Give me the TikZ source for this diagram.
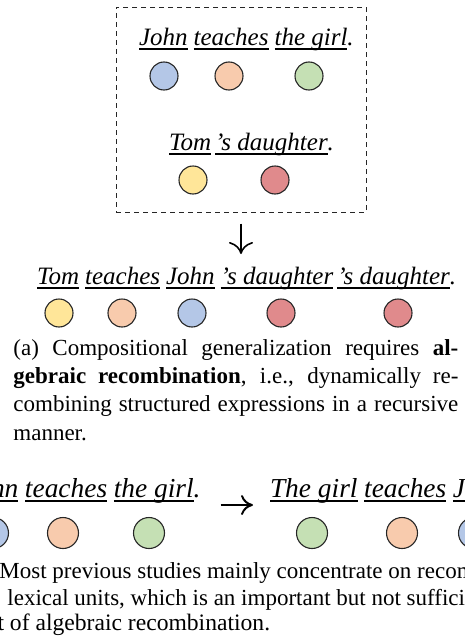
\documentclass[tikz,border=0pt]{standalone}
\usepackage{fontspec}
\setmainfont{Liberation Serif}
\usetikzlibrary{arrows.meta, positioning}
\definecolor{tokblue}{RGB}{180,199,231}
\definecolor{tokorange}{RGB}{248,203,173}
\definecolor{tokgreen}{RGB}{197,224,180}
\definecolor{tokyellow}{RGB}{255,230,153}
\definecolor{tokred}{RGB}{224,138,140}

\begin{document}
\begin{tikzpicture}[
    x=0.5pt, y=-0.5pt,
    word/.style={inner sep=0pt, outer sep=0pt, font=\fontsize{12.5}{15}\selectfont\itshape},
    bigword/.style={word, font=\fontsize{13.7}{16}\selectfont\itshape},
    tok/.style={circle, draw=black!85, line width=0.55pt, minimum size=14pt, inner sep=0pt},
    bigtok/.style={tok, minimum size=15.5pt},
    uline/.style={line width=1pt},
    groupbox/.style={draw=black!85, line width=0.5pt, dash pattern=on 2.5pt off 2pt, minimum width=125pt, minimum height=102.5pt, inner sep=0pt},
    caption/.style={inner sep=0pt, anchor=base west, font=\fontsize{11.5}{14}\selectfont},
    downarrow/.style={-{To[length=6pt,width=12pt]}, line width=0.8pt},
    rightarrow/.style={-{To[length=6pt,width=10pt]}, line width=1pt}
]
\useasboundingbox (0,0) rectangle (465,637);
\clip (0,0) rectangle (465,637);

% (a) input expressions
\node[groupbox] (box) at (241,109.5) {};
\node[word, anchor=base west] (john1) at (139,45) {John};
\node[word, base right=3pt of john1] (teach1) {teaches};
\node[word, base right=3pt of teach1] (girl1) {the girl};
\node[word, base right=0pt of girl1] (dot1) {.};
\node[tok, fill=tokblue] (cjohn1) at (164,76) {};
\node[tok, fill=tokorange] (cteach1) at (229,76) {};
\node[tok, fill=tokgreen] (cgirl1) at (309,76) {};

\node[word, anchor=base west] (tom2) at (169,150) {Tom};
\node[word, base right=2pt of tom2] (dau2) {’\kern-1pt s daughter};
\node[word, base right=0pt of dau2] (dot2) {.};
\node[tok, fill=tokyellow] (ctom2) at (193,180) {};
\node[tok, fill=tokred] (cdau2) at (275,180) {};

% recombined expression
\coordinate (rowtop) at (241,254);
\draw[downarrow, shorten <=5.5pt] (box.south) -- (rowtop);

\node[word, anchor=base west] (tom3) at (37,284) {Tom};
\node[word, base right=3pt of tom3] (teach3) {teaches};
\node[word, base right=3pt of teach3] (john3) {John};
\node[word, base right=3pt of john3] (dau3) {’\kern-1pt s daughter};
\node[word, base right=2pt of dau3] (daub3) {’\kern-1pt s daughter};
\node[word, base right=0pt of daub3] (dot3) {.};
\node[tok, fill=tokyellow] (ctom3) at (59,313) {};
\node[tok, fill=tokorange] (cteach3) at (122,313) {};
\node[tok, fill=tokblue] (cjohn3) at (192,313) {};
\node[tok, fill=tokred] (cdau3) at (281,313) {};
\node[tok, fill=tokred] (cdaub3) at (398,313) {};

\node[caption] (capa1) at (13,355) {\makebox[222.5pt][s]{(a) Compositional generalization requires \textbf{al-}}};
\node[caption] (capa2) at (13,383) {\makebox[222.5pt][s]{\textbf{gebraic recombination}, i.e., dynamically re-}};
\node[caption] (capa3) at (13,411) {\makebox[222.5pt][s]{combining structured expressions in a recursive}};
\node[caption] (capa4) at (13,440) {manner.};

% (b) lexical recombination
\node[bigword, anchor=base west] (teach4) at (25,497) {teaches};
\node[bigword, base left=3.3pt of teach4] (john4) {John};
\node[bigword, base right=3.3pt of teach4] (girl4) {the girl};
\node[bigword, base right=0pt of girl4] (dot4) {.};
\node[bigword, anchor=base west] (girl5) at (270,497) {The girl};
\node[bigword, base right=3.3pt of girl5] (teach5) {teaches};
\node[bigword, base right=3.3pt of teach5] (john5) {John};
\draw[rightarrow] ([xshift=10pt,yshift=-4pt]dot4.base east) -- ([xshift=-8.5pt,yshift=-4pt]girl5.base west);

\node[bigtok, fill=tokblue] (cjohn4) at (-7,533) {};
\node[bigtok, fill=tokorange] (cteach4) at (63,533) {};
\node[bigtok, fill=tokgreen] (cgirl4) at (149,533) {};
\node[bigtok, fill=tokgreen] (cgirl5) at (312,533) {};
\node[bigtok, fill=tokorange] (cteach5) at (402,533) {};
\node[bigtok, fill=tokblue] (cjohn5) at (474,533) {};

\node[caption] (capb1) at (-1,578) {Most previous studies mainly concentrate on recom-};
\node[caption] (capb2) at (7,605) {lexical units, which is an important but not sufficient};
\node[caption, font=\fontsize{11.8}{14}\selectfont] (capb3) at (-33,630) {part of algebraic recombination.};

% underlines
\foreach \w in {john1,teach1,girl1,tom2,dau2,tom3,teach3,john3,dau3,daub3,john4,teach4,girl4,girl5,teach5,john5}
    \draw[uline] ([yshift=-2pt]\w.base west) -- ([yshift=-2pt]\w.base east);

\end{tikzpicture}
\end{document}
